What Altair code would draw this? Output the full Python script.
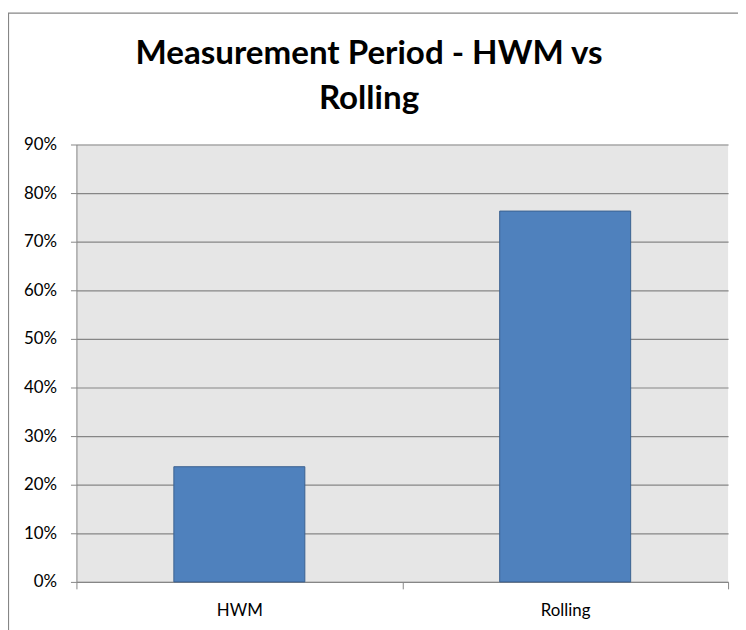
import altair as alt
import pandas as pd

categories = ["HWM", "Rolling"]
values = [0.237, 0.763]
y_ticks = [0, 0.1, 0.2, 0.3, 0.4, 0.5, 0.6, 0.7, 0.8, 0.9]
title_lines = ["Measurement Period - HWM vs", "Rolling"]

df = pd.DataFrame({"cat": categories, "val": values})

FONT = "Lato"
GRAY = "#868686"
one = pd.DataFrame({"k": [0]})

border = alt.Chart(one).mark_rect(
    fill="white", fillOpacity=0, stroke=GRAY, strokeWidth=1.2
).encode(
    x=alt.value(-68.5), x2=alt.value(720), y=alt.value(-132.5), y2=alt.value(520)
)

title = alt.Chart(one).mark_text(
    font=FONT, fontSize=33.4, fontWeight="bold", color="black",
    align="center", baseline="alphabetic", lineHeight=45
).encode(
    x=alt.value(295), y=alt.value(-81), text=alt.value(title_lines)
)

bars = alt.Chart(df).mark_bar(
    width=alt.RelativeBandSize(0.402), color="#4f81bd", stroke="#3b6190", strokeWidth=1
).encode(
    x=alt.X("cat:N", sort=categories, title=None,
            scale=alt.Scale(paddingInner=0, paddingOuter=0),
            axis=alt.Axis(labelAngle=0, tickBand="extent", grid=False,
                          domainColor=GRAY, tickColor=GRAY, tickSize=7,
                          labelFont=FONT, labelFontSize=17, labelColor="black",
                          labelPadding=14)),
    y=alt.Y("val:Q", title=None,
            scale=alt.Scale(domain=[0, 0.9], nice=False),
            axis=alt.Axis(values=y_ticks, format=".0%", grid=True,
                          gridColor=GRAY, gridWidth=1.2,
                          domainColor=GRAY, tickColor=GRAY, tickSize=6,
                          labelFont=FONT, labelFontSize=17, labelColor="black",
                          labelPadding=14)),
)

chart = alt.layer(border, bars, title).properties(
    width=657, height=441,
    autosize=alt.AutoSizeParams(type="none"),
    padding={"left": 69, "top": 135, "right": 10, "bottom": 60},
).configure_view(fill="#e6e6e6", stroke=None)

chart.save("out.html", embed_options={"renderer": "svg", "actions": False})
